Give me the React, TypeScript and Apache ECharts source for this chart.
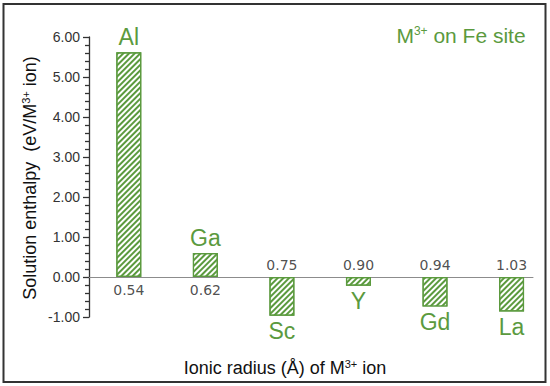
import React, { useEffect, useRef } from "react";
import * as echarts from "echarts";

const elements = ["Al", "Ga", "Sc", "Y", "Gd", "La"];
const enthalpy = [5.62, 0.6, -0.97, -0.22, -0.74, -0.86];
const radii = ["0.54", "0.62", "0.75", "0.90", "0.94", "1.03"];
const yTicks = { min: -1, max: 6, interval: 1 };

const GREEN = "#5b9a3e";
const SANS = "'Liberation Sans', Arial, sans-serif";

export default function App() {
  const ref = useRef<HTMLDivElement>(null);
  useEffect(() => {
    if (!ref.current) return;
    const chart = echarts.init(ref.current, null, { renderer: "svg" });
    const positions = enthalpy.map((_, i) => i);
    chart.setOption({
      animation: false,
      backgroundColor: "#ffffff",
      grid: { left: 89, right: 17, top: 37, bottom: 69 },
      xAxis: {
        type: "value",
        min: -0.52,
        max: 5.28,
        axisLine: { show: true, onZero: true, lineStyle: { color: "#8c8c8c", width: 1 } },
        axisTick: { show: false },
        axisLabel: { show: false },
        splitLine: { show: false },
      },
      yAxis: {
        type: "value",
        min: yTicks.min,
        max: yTicks.max,
        interval: yTicks.interval,
        axisLine: { show: true, onZero: false, lineStyle: { color: "#333", width: 1.3 } },
        axisTick: { show: true, inside: false, length: 6, lineStyle: { color: "#333", width: 1.3 } },
        minorTick: { show: true, splitNumber: 5, length: 4, lineStyle: { color: "#333", width: 1.3 } },
        axisLabel: {
          formatter: (v: number) => v.toFixed(2),
          color: "#333",
          fontSize: 14,
          fontFamily: SANS,
          margin: 9,
        },
        splitLine: { show: false },
      },
      series: [
        {
          type: "bar",
          barWidth: 25,
          data: enthalpy.map((v, i) => ({
            value: [positions[i], v],
            label: { position: v >= 0 ? "top" : "bottom" },
          })),
          itemStyle: {
            color: "#ffffff",
            borderColor: GREEN,
            borderWidth: 1.2,
            decal: {
              symbol: "rect",
              dashArrayX: [1, 0],
              dashArrayY: [1.7, 2],
              rotation: -Math.PI / 4,
              color: GREEN,
            },
          },
          label: {
            show: true,
            distance: 4,
            formatter: (p: any) => elements[p.dataIndex],
            color: GREEN,
            fontSize: 23,
            fontFamily: SANS,
          },
        },
        {
          type: "scatter",
          symbolSize: 1,
          itemStyle: { color: "rgba(0,0,0,0)" },
          data: enthalpy.map((v, i) => ({
            value: [positions[i], 0],
            label: { position: v >= 0 ? "bottom" : "top" },
          })),
          label: {
            show: true,
            distance: 5,
            formatter: (p: any) => radii[p.dataIndex],
            color: "#222",
            fontSize: 14,
            fontFamily: "'DejaVu Sans', Verdana, sans-serif",
          },
          z: 5,
        },
      ],
      graphic: [
        {
          type: "rect",
          shape: { x: 3.5, y: 4, width: 542, height: 378 },
          style: { fill: "none", stroke: "#333", lineWidth: 2 },
          silent: true,
        },
        {
          type: "text",
          x: 461,
          y: 35,
          style: {
            text: "{a|M}{s|3+}{a| on Fe site}",
            align: "center",
            verticalAlign: "middle",
            rich: {
              a: { fontSize: 21, fontFamily: SANS, fill: GREEN, color: GREEN },
              s: { fontSize: 12, fontFamily: SANS, fill: GREEN, color: GREEN, padding: [0, 0, 9, 0] },
            },
          },
        },
        {
          type: "text",
          x: 285,
          y: 368,
          style: {
            text: "{a|Ionic radius (Å) of M}{s|3+}{a| ion}",
            align: "center",
            verticalAlign: "middle",
            rich: {
              a: { fontSize: 18, fontFamily: SANS, fill: "#111", color: "#111" },
              s: { fontSize: 11, fontFamily: SANS, fill: "#111", color: "#111", padding: [0, 0, 8, 0] },
            },
          },
        },
        {
          type: "text",
          x: 30,
          y: 178,
          rotation: Math.PI / 2,
          style: {
            text: "{a|Solution enthalpy  (eV/M}{s|3+}{a| ion)}",
            align: "center",
            verticalAlign: "middle",
            rich: {
              a: { fontSize: 18, fontFamily: SANS, fill: "#111", color: "#111" },
              s: { fontSize: 11, fontFamily: SANS, fill: "#111", color: "#111", padding: [0, 0, 8, 0] },
            },
          },
        },
      ],
    });
    return () => chart.dispose();
  }, []);
  return (
    <div
      ref={ref}
      style={{ position: "absolute", left: 0, top: 0, width: 550, height: 386 }}
    />
  );
}
